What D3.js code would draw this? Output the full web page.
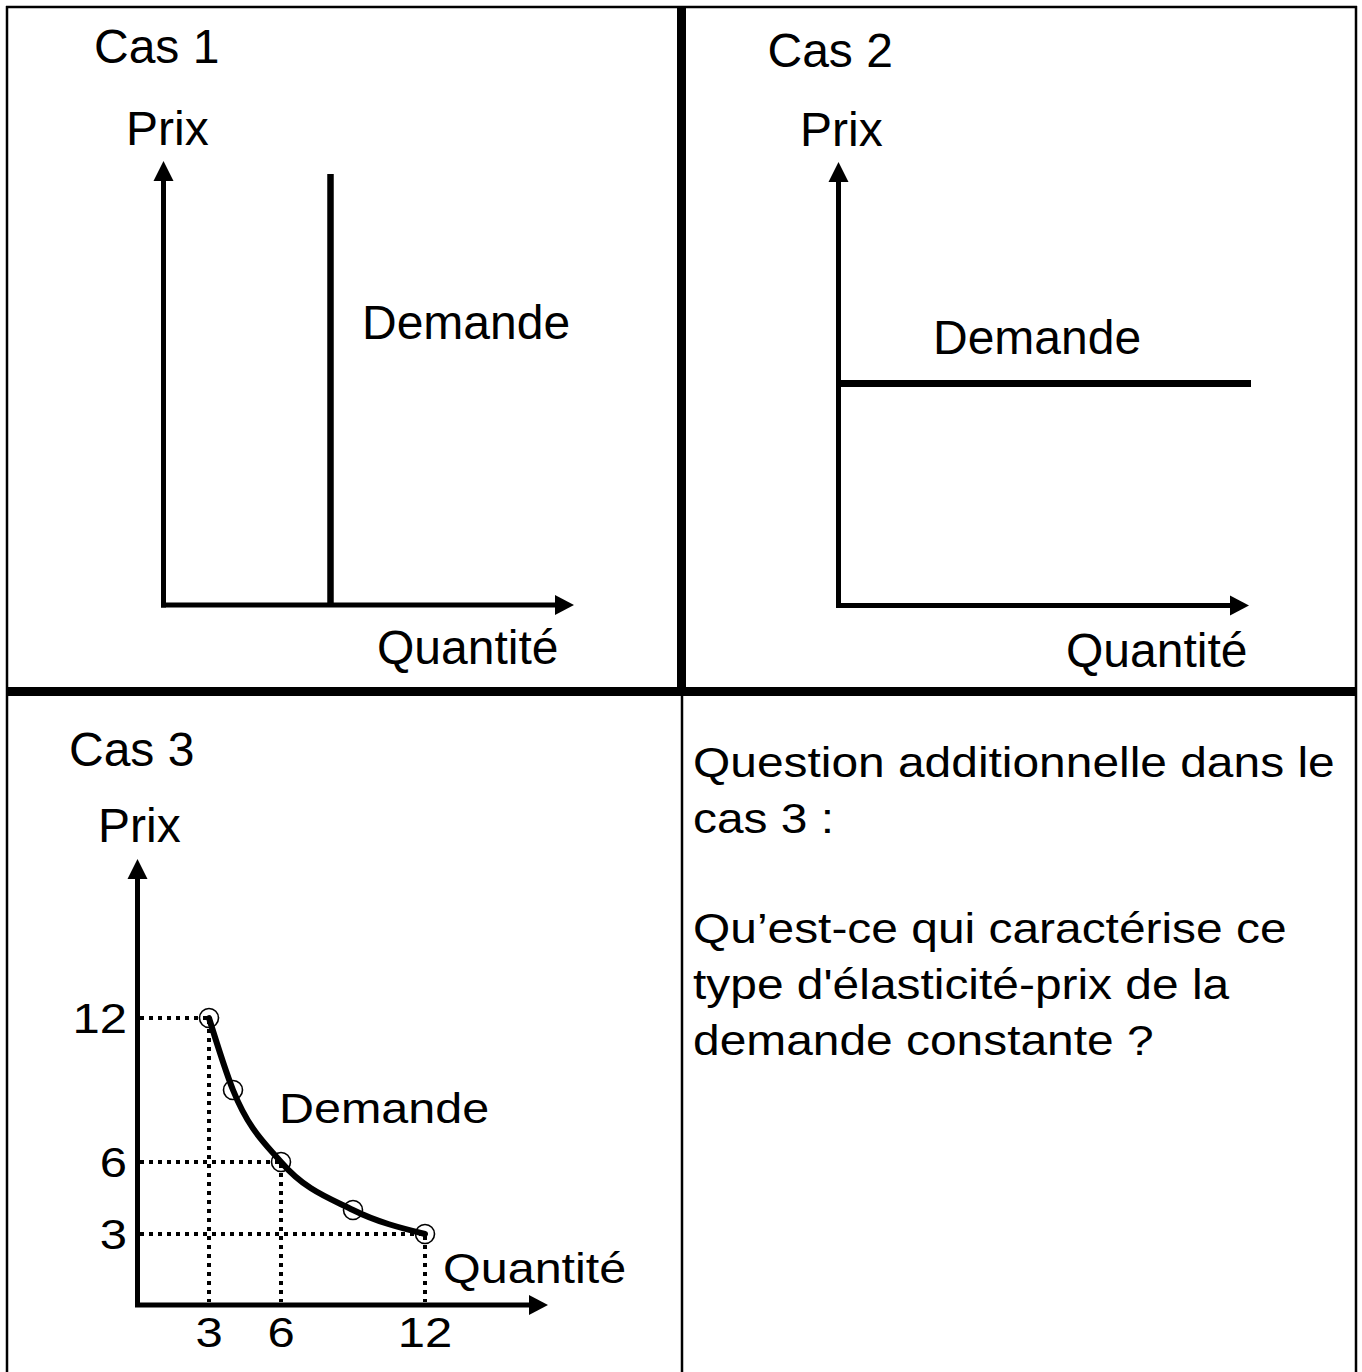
<!DOCTYPE html>
<html>
<head>
<meta charset="utf-8">
<script src="https://cdn.jsdelivr.net/npm/d3@7"></script>
<style>
  html, body { margin: 0; padding: 0; background: #fff; }
  svg { display: block; }
  text { font-family: "Liberation Sans", Arial, sans-serif; fill: #000; }
</style>
</head>
<body>
<svg id="chart" width="1362" height="1372"></svg>
<script>
// ---------- DATA ----------
const panelTitles = ["Cas 1", "Cas 2", "Cas 3"];
const axisLabelPrix = "Prix";
const axisLabelQuantite = "Quantité";
const demandLabel = "Demande";

// Cas 1 : demande parfaitement inélastique (quantité fixe)
const cas1DemandQuantity = 4;
const cas1PriceRange = [0, 10];

// Cas 2 : demande parfaitement élastique (prix fixe)
const cas2DemandPrice = 5;
const cas2QuantityRange = [0, 10];

// Cas 3 : élasticité-prix constante (P × Q = 36)
const cas3Quantite = [3, 4, 6, 9, 12];
const cas3Prix = [12, 9, 6, 4, 3];
const cas3GuideQuantite = [3, 6, 12];
const cas3GuidePrix = [12, 6, 3];
const cas3TickLabelsX = ["3", "6", "12"];
const cas3TickLabelsY = ["12", "6", "3"];

const questionLines = [
  "Question additionnelle dans le",
  "cas 3 :",
  "",
  "Qu\u2019est-ce qui caractérise ce",
  "type d'élasticité-prix de la",
  "demande constante ?"
];

// ---------- DRAWING ----------
const svg = d3.select("#chart");
svg.append("rect").attr("width", 1362).attr("height", 1372).attr("fill", "#fff");

const FS = 48;

function upArrow(g, x, tipY) {
  g.append("path")
    .attr("d", `M${x},${tipY} L${x - 10},${tipY + 20} L${x + 10},${tipY + 20} Z`)
    .attr("fill", "#000");
}
function rightArrow(g, tipX, y) {
  g.append("path")
    .attr("d", `M${tipX},${y} L${tipX - 19},${y - 10} L${tipX - 19},${y + 10} Z`)
    .attr("fill", "#000");
}
function label(g, txt, x, y, opts = {}) {
  const sy = opts.sy || 1;
  return g.append("text")
    .attr("transform", `translate(${x},${y}) scale(1,${sy})`)
    .attr("font-size", opts.fs || FS)
    .attr("text-anchor", opts.anchor || "start")
    .text(txt);
}

// ---- Panel frame ----
const frame = svg.append("g");
frame.append("line").attr("x1", 7).attr("x2", 7).attr("y1", 6).attr("y2", 1372)
  .attr("stroke", "#000").attr("stroke-width", 2.5);
frame.append("line").attr("x1", 1356).attr("x2", 1356).attr("y1", 6).attr("y2", 1372)
  .attr("stroke", "#000").attr("stroke-width", 2.5);
frame.append("line").attr("x1", 6).attr("x2", 1357).attr("y1", 7).attr("y2", 7)
  .attr("stroke", "#000").attr("stroke-width", 2.5);
frame.append("line").attr("x1", 681.5).attr("x2", 681.5).attr("y1", 7).attr("y2", 692)
  .attr("stroke", "#000").attr("stroke-width", 9);
frame.append("line").attr("x1", 7).attr("x2", 1356).attr("y1", 691.5).attr("y2", 691.5)
  .attr("stroke", "#000").attr("stroke-width", 9);
frame.append("line").attr("x1", 682).attr("x2", 682).attr("y1", 692).attr("y2", 1372)
  .attr("stroke", "#000").attr("stroke-width", 2.5);

// ---- Cas 1 ----
{
  const g = svg.append("g");
  const x = d3.scaleLinear().domain([0, 10]).range([163.5, 581]);
  const y = d3.scaleLinear().domain(cas1PriceRange).range([604, 174]);
  label(g, panelTitles[0], 94, 62.5);
  label(g, axisLabelPrix, 126, 145);
  g.append("line").attr("x1", x(0)).attr("x2", x(0)).attr("y1", 180).attr("y2", 607.5)
    .attr("stroke", "#000").attr("stroke-width", 5);
  g.append("line").attr("x1", x(0) - 2.5).attr("x2", 556).attr("y1", 605).attr("y2", 605)
    .attr("stroke", "#000").attr("stroke-width", 5);
  upArrow(g, x(0), 161);
  rightArrow(g, 574, 605);
  g.append("line")
    .attr("x1", x(cas1DemandQuantity)).attr("x2", x(cas1DemandQuantity))
    .attr("y1", y(cas1PriceRange[1])).attr("y2", y(cas1PriceRange[0]))
    .attr("stroke", "#000").attr("stroke-width", 6.5);
  label(g, demandLabel, 362, 339);
  label(g, axisLabelQuantite, 377, 664);
}

// ---- Cas 2 ----
{
  const g = svg.append("g");
  const x = d3.scaleLinear().domain(cas2QuantityRange).range([838.5, 1251]);
  const y = d3.scaleLinear().domain([0, 10]).range([605, 162]);
  label(g, panelTitles[1], 767.5, 67);
  label(g, axisLabelPrix, 800, 146);
  g.append("line").attr("x1", 838.5).attr("x2", 838.5).attr("y1", 181).attr("y2", 607.5)
    .attr("stroke", "#000").attr("stroke-width", 5);
  g.append("line").attr("x1", 836).attr("x2", 1230).attr("y1", 605.5).attr("y2", 605.5)
    .attr("stroke", "#000").attr("stroke-width", 5);
  upArrow(g, 838.5, 162);
  rightArrow(g, 1249, 605.5);
  g.append("line")
    .attr("x1", x(cas2QuantityRange[0])).attr("x2", x(cas2QuantityRange[1]))
    .attr("y1", y(cas2DemandPrice)).attr("y2", y(cas2DemandPrice))
    .attr("stroke", "#000").attr("stroke-width", 7);
  label(g, demandLabel, 933, 354);
  label(g, axisLabelQuantite, 1066, 667);
}

// ---- Cas 3 ----
{
  const g = svg.append("g");
  const x = d3.scaleLinear().domain([0, 12]).range([137, 425]);
  const y = d3.scaleLinear().domain([0, 12]).range([1306, 1018]);
  const SQ = 0.88;
  label(g, panelTitles[2], 69, 766);
  label(g, axisLabelPrix, 98, 842);

  // dotted guides
  cas3GuideQuantite.forEach((q, i) => {
    const p = cas3GuidePrix[i];
    g.append("line").attr("x1", x(q)).attr("x2", x(q)).attr("y1", y(p) + 2).attr("y2", 1302)
      .attr("stroke", "#000").attr("stroke-width", 4).attr("stroke-dasharray", "4,5");
    g.append("line").attr("x1", 140).attr("x2", x(q)).attr("y1", y(p)).attr("y2", y(p))
      .attr("stroke", "#000").attr("stroke-width", 4).attr("stroke-dasharray", "4,5");
  });

  // axes
  g.append("line").attr("x1", 137.5).attr("x2", 137.5).attr("y1", 878).attr("y2", 1307)
    .attr("stroke", "#000").attr("stroke-width", 5);
  g.append("line").attr("x1", 135).attr("x2", 530).attr("y1", 1305).attr("y2", 1305)
    .attr("stroke", "#000").attr("stroke-width", 5);
  upArrow(g, 137.5, 859);
  rightArrow(g, 548, 1305);

  // curve
  const pts = cas3Quantite.map((q, i) => [q, cas3Prix[i]]);
  const line = d3.line().x(d => x(d[0])).y(d => y(d[1])).curve(d3.curveMonotoneX);
  g.append("path").datum(pts).attr("d", line)
    .attr("fill", "none").attr("stroke", "#000").attr("stroke-width", 6)
    .attr("stroke-linecap", "round");
  g.selectAll("circle.pt").data(pts).join("circle")
    .attr("class", "pt")
    .attr("cx", d => x(d[0])).attr("cy", d => y(d[1])).attr("r", 9.5)
    .attr("fill", "none").attr("stroke", "#000").attr("stroke-width", 1.6);

  // tick labels
  cas3GuideQuantite.forEach((q, i) => {
    label(g, cas3TickLabelsX[i], x(q), 1347, { anchor: "middle", sy: SQ, fs: 49 });
  });
  cas3GuidePrix.forEach((p, i) => {
    label(g, cas3TickLabelsY[i], 127, y(p) + 15, { anchor: "end", sy: SQ, fs: 49 });
  });

  label(g, demandLabel, 279, 1123, { sy: SQ, fs: 48.5 });
  label(g, axisLabelQuantite, 443, 1283, { sy: SQ, fs: 48.5 });
}

// ---- Question ----
{
  const g = svg.append("g");
  const baselines = [777, 833, null, 943, 999, 1055];
  questionLines.forEach((ln, i) => {
    if (!ln) return;
    label(g, ln, 693, baselines[i], { fs: 47.9, sy: 0.88 });
  });
}
</script>
</body>
</html>
